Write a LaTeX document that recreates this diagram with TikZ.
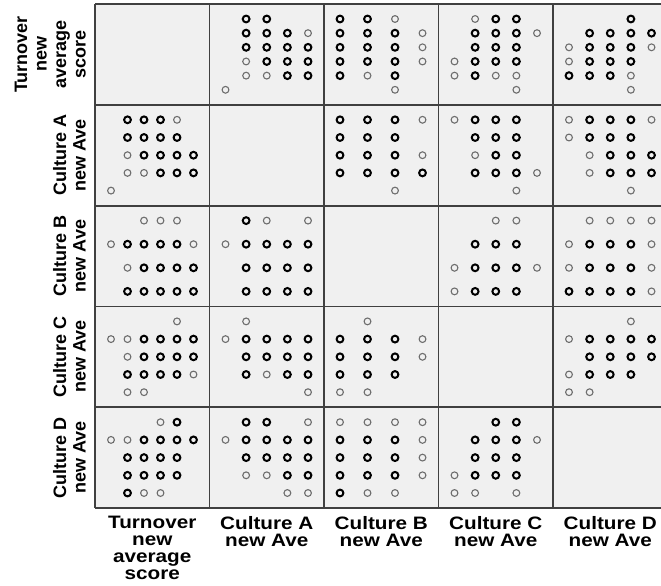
\documentclass[tikz,border=0pt]{standalone}
\usepackage{fontspec}
\setmainfont{Liberation Sans}
\newfontfamily\widesans[FakeStretch=1.15]{Liberation Sans}
\usetikzlibrary{positioning}
\definecolor{cellbg}{RGB}{240,240,240}
\definecolor{gridln}{RGB}{64,64,64}
\definecolor{faint}{RGB}{110,110,110}
\tikzset{
  dk/.style={draw=black, line width=2pt},
  lt/.style={draw=faint, line width=1.1pt},
  ylab/.style={rotate=90, anchor=south, align=center, inner sep=0pt,
               font=\bfseries\fontsize{18}{19.5}\selectfont},
  xlab/.style={anchor=north, align=center, inner sep=0pt,
               font=\widesans\bfseries\fontsize{18}{17}\selectfont},
}
% number of distinct values of each variable
\def\nlv{{6,5,4,5,5}}
% one marker: column, row, x level, y level, style
\newcommand\plotpt[5]{%
  \pgfmathsetmacro\ptx{111+114.5*#1+(#3-1)*82.5/(\nlv[#1]-1)}%
  \pgfmathsetmacro\pty{19+100.8*#2+(\nlv[#2]-#4)*70.8/(\nlv[#2]-1)}%
  \draw[#5] (\ptx,\pty) circle[radius=3.4];}

\begin{document}
\begin{tikzpicture}[x=1pt, y=-1pt]
  \useasboundingbox (0,0) rectangle (661,586);
  \clip (0,0) rectangle (661,586);
  % panels
  \fill[cellbg] (95,4) rectangle (667.5,508);
  \foreach \k in {0,...,5} {
    \draw[gridln, line width=1.8pt] (95+114.5*\k,4) -- (95+114.5*\k,508);
    \draw[gridln, line width=1.8pt] (95,4+100.8*\k) -- (667.5,4+100.8*\k);
  }
  % markers, each pair drawn in both mirrored panels
  \foreach \i/\j/\pts in {
    0/1/{6/2/dk,6/3/dk,5/2/dk,5/3/dk,5/4/dk,5/5/lt,4/2/dk,4/3/dk,4/4/dk,4/5/dk,
         3/2/lt,3/3/dk,3/4/dk,3/5/dk,2/2/lt,2/3/lt,2/4/dk,2/5/dk,1/1/lt},
    0/2/{6/1/dk,6/2/dk,6/3/lt,5/1/dk,5/2/dk,5/3/dk,5/4/lt,4/1/dk,4/2/dk,4/3/dk,4/4/lt,
         3/1/dk,3/2/dk,3/3/dk,3/4/lt,2/1/dk,2/2/lt,2/3/dk,1/3/lt},
    0/3/{6/2/lt,6/3/dk,6/4/dk,5/2/dk,5/3/dk,5/4/dk,5/5/lt,4/2/dk,4/3/dk,4/4/dk,
         3/1/lt,3/2/dk,3/3/dk,3/4/dk,2/1/lt,2/2/dk,2/3/lt,2/4/lt,1/4/lt},
    0/4/{6/4/dk,5/2/dk,5/3/dk,5/4/dk,5/5/dk,4/1/lt,4/2/dk,4/3/dk,4/4/dk,4/5/lt,
         3/1/lt,3/2/dk,3/3/dk,3/4/dk,2/1/dk,2/2/dk,2/3/dk,2/4/lt,1/4/lt},
    1/2/{5/1/dk,5/2/dk,5/3/dk,5/4/lt,4/1/dk,4/2/dk,4/3/dk,3/1/dk,3/2/dk,3/3/dk,3/4/lt,
         2/1/dk,2/2/dk,2/3/dk,2/4/dk,1/3/lt},
    1/3/{5/1/lt,5/2/dk,5/3/dk,5/4/dk,4/2/dk,4/3/dk,4/4/dk,3/2/lt,3/3/dk,3/4/dk,
         2/2/dk,2/3/dk,2/4/dk,2/5/lt,1/4/lt},
    1/4/{5/1/lt,5/2/dk,5/3/dk,5/4/dk,5/5/lt,4/1/lt,4/2/dk,4/3/dk,4/4/dk,
         3/2/lt,3/3/dk,3/4/dk,3/5/dk,2/2/lt,2/3/dk,2/4/dk,2/5/dk,1/4/lt},
    2/3/{4/3/lt,4/4/lt,3/2/dk,3/3/dk,3/4/dk,2/1/lt,2/2/dk,2/3/dk,2/4/dk,2/5/lt,
         1/1/lt,1/2/dk,1/3/dk,1/4/dk},
    2/4/{4/2/lt,4/3/lt,4/4/lt,4/5/lt,3/1/lt,3/2/dk,3/3/dk,3/4/dk,3/5/lt,
         2/1/lt,2/2/dk,2/3/dk,2/4/dk,2/5/lt,1/1/dk,1/2/dk,1/3/dk,1/4/dk,1/5/lt},
    3/4/{5/4/lt,4/1/lt,4/2/dk,4/3/dk,4/4/dk,4/5/dk,3/2/dk,3/3/dk,3/4/dk,3/5/dk,
         2/1/lt,2/2/dk,2/3/dk,2/4/dk,1/1/lt,1/2/lt}}{
    \foreach \a/\b/\s in \pts {
      \plotpt{\j}{\i}{\b}{\a}{\s}
      \plotpt{\i}{\j}{\a}{\b}{\s}
    }
  }
  % axis labels
  \node[ylab] (ylabT) at (86,54.4) {Turnover\\new\\average\\score};
  \node[ylab] (ylabA) at (86,155.2) {Culture A\\new Ave};
  \node[ylab] (ylabB) at (86,256) {Culture B\\new Ave};
  \node[ylab] (ylabC) at (86,356.8) {Culture C\\new Ave};
  \node[ylab] (ylabD) at (86,457.6) {Culture D\\new Ave};
  \node[xlab] (xlabT) at (152.25,516) {Turnover\\new\\average\\score};
  \node[xlab] (xlabA) at (266.75,516) {Culture A\\new Ave};
  \node[xlab] (xlabB) at (381.25,516) {Culture B\\new Ave};
  \node[xlab] (xlabC) at (495.75,516) {Culture C\\new Ave};
  \node[xlab] (xlabD) at (610.25,516) {Culture D\\new Ave};
\end{tikzpicture}
\end{document}
